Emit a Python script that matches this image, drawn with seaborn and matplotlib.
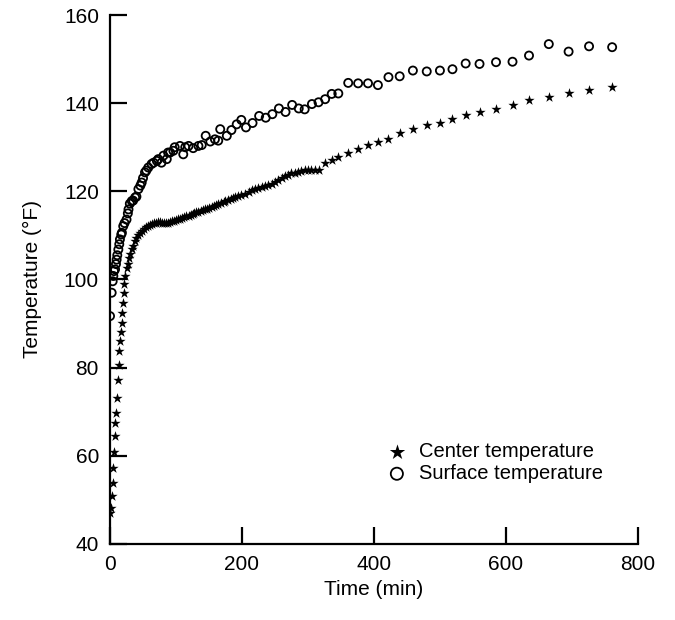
import pandas as pd
import seaborn as sns
import matplotlib.pyplot as plt

# center temperature (stars)
center_time = [0, 1.5, 2.5, 4, 5, 5.5, 7, 7.6, 9, 10.5, 11.6, 13, 13.6, 15, 16, 17.5,
               18.5, 19.5, 20.5, 21.5, 23, 25, 27, 29, 31, 33, 35, 38, 40, 43, 46, 49,
               52, 55, 58, 61, 64, 67, 70, 73, 76, 79, 82, 85, 88, 91, 94, 97, 100, 103,
               106, 109, 112, 115, 119, 122, 125, 128, 131, 134, 138, 141, 144, 147, 150,
               154, 157, 161, 164, 168, 172, 175, 179, 183, 187, 190, 194, 199, 205, 210,
               215, 220, 225, 230, 235, 240, 245, 250, 255, 260, 265, 270, 275, 280, 285,
               290, 295, 300, 305, 310, 316, 326, 336, 346, 361, 376, 391, 406, 422, 439,
               459, 480, 500, 519, 539, 560, 585, 610, 635, 666, 695, 726, 761]
center_temp = [47.0, 48.1, 50.8, 53.8, 57.2, 60.8, 64.4, 67.4, 69.7, 73.1, 77.1, 80.5,
               83.7, 86.0, 88.1, 90.2, 92.5, 94.7, 97.0, 98.9, 100.8, 102.5, 103.6, 104.8,
               105.8, 107.0, 107.7, 108.8, 109.3, 110.0, 110.6, 111.1, 111.5, 111.9, 112.1,
               112.4, 112.6, 112.8, 112.9, 113.0, 113.0, 112.9, 112.8, 112.8, 112.9, 113.0,
               113.2, 113.3, 113.5, 113.7, 113.8, 114.0, 114.1, 114.3, 114.5, 114.7, 114.9,
               115.0, 115.2, 115.4, 115.6, 115.8, 115.9, 116.1, 116.3, 116.5, 116.7, 116.9,
               117.1, 117.3, 117.5, 117.7, 118.0, 118.2, 118.4, 118.7, 119.0, 119.2, 119.4,
               119.8, 120.2, 120.5, 120.8, 121.0, 121.2, 121.4, 121.7, 122.1, 122.6, 123.0,
               123.5, 123.8, 124.1, 124.2, 124.3, 124.5, 124.8, 124.9, 124.9, 124.8, 124.8,
               126.4, 127.1, 127.7, 128.6, 129.6, 130.5, 131.1, 131.8, 133.2, 134.1, 135.0,
               135.6, 136.4, 137.4, 138.1, 138.7, 139.6, 140.8, 141.5, 142.4, 143.0, 143.7]

# surface temperature (open circles)
surface_time = [0, 2.5, 4, 5, 6, 7.6, 9, 10, 11, 12.6, 14, 15, 17, 18, 20, 22, 25, 27,
                28, 30, 33, 35, 38, 40, 43, 46, 48, 50, 53, 55, 58, 63, 66, 71, 73, 78,
                81, 86, 88, 91, 96, 98, 106, 111, 114, 119, 126, 134, 139, 145, 152, 159,
                164, 167, 177, 184, 192, 199, 206, 216, 226, 236, 246, 256, 266, 276, 286,
                295, 306, 316, 326, 336, 346, 361, 376, 391, 406, 422, 439, 459, 480, 500,
                519, 539, 560, 585, 610, 635, 665, 695, 726, 761]
surface_temp = [91.7, 97.0, 99.6, 100.8, 101.9, 102.3, 103.5, 104.5, 105.5, 106.8, 108.0,
                109.1, 110.2, 110.6, 112.1, 112.8, 113.6, 115.0, 115.9, 117.2, 117.8, 117.9,
                118.6, 118.8, 120.5, 121.3, 122.0, 123.0, 124.3, 124.7, 125.4, 126.2, 126.5,
                126.9, 127.3, 126.5, 128.1, 127.3, 128.8, 128.8, 129.2, 130.0, 130.3, 128.4,
                130.0, 130.3, 129.8, 130.3, 130.5, 132.6, 131.3, 131.8, 131.5, 134.1, 132.6,
                133.9, 135.2, 136.2, 134.5, 135.5, 137.1, 136.7, 137.5, 138.8, 138.0, 139.6,
                138.8, 138.6, 139.8, 140.2, 140.9, 142.1, 142.2, 144.6, 144.5, 144.5, 144.1,
                145.9, 146.1, 147.4, 147.2, 147.4, 147.7, 149.0, 148.9, 149.3, 149.4, 150.8,
                153.4, 151.7, 152.9, 152.7]

x_ticks = [0, 200, 400, 600, 800]
y_ticks = [40, 60, 80, 100, 120, 140, 160]

center = pd.DataFrame({'time': center_time, 'temp': center_temp})
surface = pd.DataFrame({'time': surface_time, 'temp': surface_temp})

sns.set_style('ticks', {'axes.edgecolor': 'black', 'text.color': 'black',
                        'xtick.color': 'black', 'ytick.color': 'black',
                        'axes.labelcolor': 'black'})
plt.rcParams['font.family'] = ['Liberation Sans', 'DejaVu Sans']

fig = plt.figure(figsize=(6.75, 6.2), dpi=100)
ax = fig.add_axes([0.163, 0.1226, 0.782, 0.8532])

sns.scatterplot(data=center, x='time', y='temp', marker='*', color='black', s=60,
                linewidth=0, label='Center temperature', ax=ax)
sns.scatterplot(data=surface, x='time', y='temp', marker='o', facecolors='none',
                edgecolor='black', s=34, linewidth=1.3, label='Surface temperature', ax=ax)

ax.set_xlim(0, 800)
ax.set_ylim(40, 160)
ax.set_xticks(x_ticks)
ax.set_yticks(y_ticks)
ax.tick_params(direction='in', length=12, width=1.6, labelsize=15, pad=8)
for side in ['left', 'bottom']:
    ax.spines[side].set_linewidth(1.6)
sns.despine(ax=ax)

ax.set_xlabel('Time (min)', fontsize=15, labelpad=4)
ax.set_ylabel('Temperature (°F)', fontsize=15, labelpad=16)

ax.legend(loc='lower left', bbox_to_anchor=(0.49, 0.10), frameon=False, fontsize=14.5,
          handletextpad=0.1, labelspacing=0.15, borderaxespad=0, markerscale=1.5)

fig.savefig('out.png', dpi=100)
